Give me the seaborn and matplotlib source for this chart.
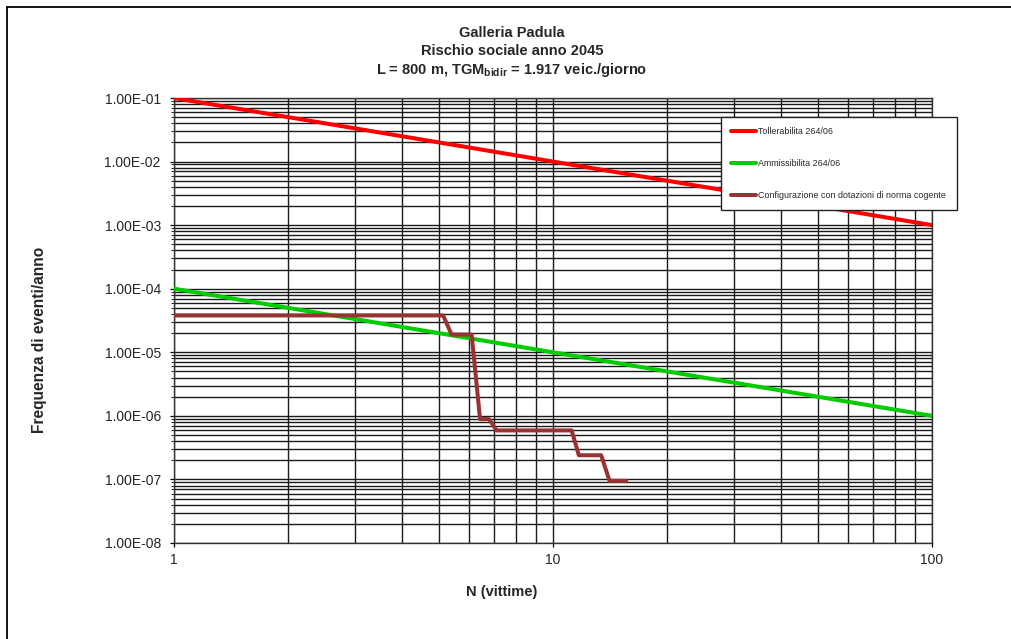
import matplotlib
matplotlib.use("Agg")
import matplotlib.pyplot as plt
import matplotlib.ticker as mticker
from matplotlib.lines import Line2D
import seaborn as sns
import pandas as pd
import numpy as np

# ---- data ----
tollerabilita_n = [1, 100]
tollerabilita_f = [1.0e-1, 1.0e-3]
ammissibilita_n = [1, 100]
ammissibilita_f = [1.0e-4, 1.0e-6]
config_n = [1.0, 5.13, 5.4, 6.1, 6.42, 6.78, 7.1, 11.2, 11.7, 13.4, 14.1, 15.6]
config_f = [3.8e-5, 3.8e-5, 1.9e-5, 1.9e-5, 8.9e-7, 8.9e-7, 5.9e-7, 5.9e-7,
            2.4e-7, 2.4e-7, 9.5e-8, 9.5e-8]
series_names = ["Tollerabilita 264/06", "Ammissibilita 264/06",
                "Configurazione con dotazioni di norma cogente"]
series_colors = ["#FF0000", "#00CC00", "#993333"]
y_ticks = [1e-1, 1e-2, 1e-3, 1e-4, 1e-5, 1e-6, 1e-7, 1e-8]
x_ticks = [1, 10, 100]

frames = []
for name, xs, ys in zip(series_names,
                        [tollerabilita_n, ammissibilita_n, config_n],
                        [tollerabilita_f, ammissibilita_f, config_f]):
    frames.append(pd.DataFrame({"N": xs, "F": ys, "serie": name}))
df = pd.concat(frames, ignore_index=True)

sns.set_theme(style="white")
plt.rcParams["font.family"] = ["Liberation Sans", "DejaVu Sans"]
plt.rcParams["mathtext.fontset"] = "custom"
plt.rcParams["mathtext.rm"] = "Liberation Sans"
plt.rcParams["mathtext.bf"] = "Liberation Sans:bold"

W, H = 1011, 639
fig = plt.figure(figsize=(W / 100, H / 100), dpi=100)
ax = fig.add_axes([174 / W, 1 - 543 / H, (932 - 174) / W, (543 - 98) / H])

ax.set_xscale("log")
ax.set_yscale("log")
ax.set_xlim(1, 100)
ax.set_ylim(1e-8, 1e-1)

ax.grid(which="both", color="#1a1a1a", linewidth=1.0, zorder=0)
ax.set_axisbelow(True)

sns.lineplot(data=df, x="N", y="F", hue="serie", hue_order=series_names,
             palette=dict(zip(series_names, series_colors)),
             sort=False, estimator=None, linewidth=2.9, legend=False, ax=ax,
             zorder=3)

ax.set_xticks(x_ticks)
ax.xaxis.set_major_formatter(mticker.FuncFormatter(lambda v, p: f"{v:g}"))
ax.xaxis.set_minor_formatter(mticker.NullFormatter())
ax.set_yticks(y_ticks)
ax.yaxis.set_major_formatter(mticker.FuncFormatter(lambda v, p: f"{v:.2E}"))
ax.yaxis.set_minor_locator(mticker.LogLocator(base=10, subs=np.arange(2, 10)))
ax.yaxis.set_minor_formatter(mticker.NullFormatter())
ax.xaxis.set_minor_locator(mticker.LogLocator(base=10, subs=np.arange(2, 10)))

ax.tick_params(axis="y", which="major", direction="out", length=3, width=0.9,
               color="black", pad=6.5, labelsize=10, left=True)
ax.tick_params(axis="y", which="minor", direction="out", length=2, width=0.6,
               color="black", left=True)
ax.tick_params(axis="x", which="major", direction="out", length=3, width=0.9,
               color="black", pad=4, labelsize=10, bottom=True)
ax.tick_params(axis="x", which="minor", length=0)
ax.set_xlabel("")
ax.set_ylabel("")
for s in ax.spines.values():
    s.set_color("#333333")
    s.set_linewidth(1.0)

# titles
tx = 512 / W
fig.text(tx, 1 - 37 / H, "Galleria Padula", ha="center", va="baseline",
         fontsize=10.5, fontweight="bold")
fig.text(tx, 1 - 55 / H, "Rischio sociale anno 2045", ha="center",
         va="baseline", fontsize=10.5, fontweight="bold")
fig.text(tx, 1 - 74 / H,
         r"L = 800 m, TGM$_{\mathbf{bidir}}$ = 1.917 veic./giorno",
         ha="center", va="baseline", fontsize=10.5, fontweight="bold")

fig.text(502 / W, 1 - 592 / H, "N (vittime)", ha="center", va="center",
         fontsize=10.5, fontweight="bold")
fig.text(40 / W, 1 - 340 / H, "Frequenza di eventi/anno", ha="center",
         va="center", rotation=90, fontsize=11.2, fontweight="bold")

# legend
handles = [Line2D([0], [0], color=c, linewidth=2.9) for c in series_colors]
leg = fig.legend(handles, series_names, loc="upper left",
                 bbox_to_anchor=(720.7 / W, 1 - 116.7 / H),
                 bbox_transform=fig.transFigure,
                 fontsize=6.4, frameon=True, fancybox=False,
                 edgecolor="#222222", framealpha=1, borderpad=1.2,
                 handlelength=2.8, handletextpad=0.2, labelspacing=2.55,
                 borderaxespad=0)
leg.get_frame().set_linewidth(1.0)

# outer chart frame (left and top edges)
fig.add_artist(Line2D([7 / W, 7 / W], [0, 1 - 7 / H],
                      transform=fig.transFigure, color="black", linewidth=1.3))
fig.add_artist(Line2D([7 / W, 1], [1 - 7 / H, 1 - 7 / H],
                      transform=fig.transFigure, color="black", linewidth=1.3))

fig.savefig("out.png", dpi=100)
